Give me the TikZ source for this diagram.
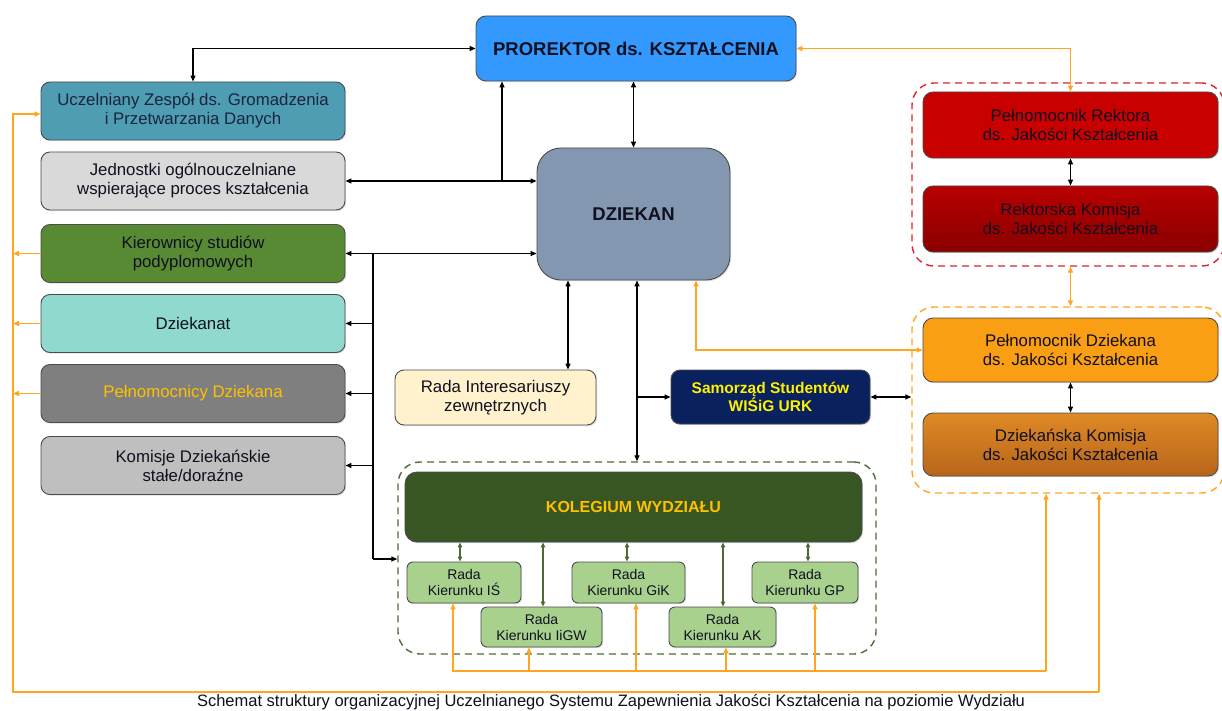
\documentclass[tikz,border=0pt]{standalone}
\usepackage{fontspec}
\setmainfont{Liberation Sans}
\usetikzlibrary{arrows.meta,shadows}
\definecolor{txt}{HTML}{101020}
\definecolor{cProrektor}{HTML}{3399FF}
\definecolor{cUczel}{HTML}{4E9DB2}
\definecolor{cUczelTxt}{HTML}{1A2440}
\definecolor{cJedn}{HTML}{D9D9D9}
\definecolor{cKier}{HTML}{578A33}
\definecolor{cDziekanat}{HTML}{8FD9CF}
\definecolor{cPelnD}{HTML}{7F7F7F}
\definecolor{cKomisje}{HTML}{BFBFBF}
\definecolor{cDziekan}{HTML}{8497B0}
\definecolor{cRadaInt}{HTML}{FFF2CC}
\definecolor{cSamorzad}{HTML}{0A215F}
\definecolor{cKolegium}{HTML}{375623}
\definecolor{cRadaK}{HTML}{A9D18E}
\definecolor{cPRekt}{HTML}{C80000}
\definecolor{cRKomTop}{HTML}{B80000}
\definecolor{cRKomBot}{HTML}{8A0000}
\definecolor{cPDziek}{HTML}{FA9E14}
\definecolor{cDKomTop}{HTML}{DE8A26}
\definecolor{cDKomBot}{HTML}{B8651A}
\definecolor{cGold}{HTML}{FFC000}
\definecolor{cOrange}{HTML}{FFA51F}
\definecolor{cRedDash}{HTML}{E0242C}
\definecolor{cGreenDash}{HTML}{4F6B3A}
\definecolor{cGreenLine}{HTML}{4A6B35}
\begin{document}
\begin{tikzpicture}[x=1pt,y=-1pt,
  >={Triangle[length=6pt,width=5pt]},
  box/.style={draw=black!70, line width=0.9pt, rounded corners=9pt, align=center,
    inner sep=0pt, text=txt, font=\fontsize{16.8}{19}\selectfont,
    drop shadow={shadow xshift=1.2pt,shadow yshift=-1.2pt,opacity=0.25}},
  leftbox/.style={box, minimum width=304pt, minimum height=58pt},
  radabox/.style={box, fill=cRadaK, minimum height=41pt, rounded corners=6pt,
    font=\fontsize{14}{16}\selectfont},
  rightbox/.style={box, minimum width=295pt, rounded corners=10pt},
  cont/.style={line width=1.4pt, dash pattern=on 7pt off 5pt, rounded corners=22pt},
  blk/.style={line width=1.3pt, black},
  oline/.style={line width=1.4pt, cOrange},
  gline/.style={line width=1.3pt, cGreenLine}]

\fill[white] (0,0) rectangle (1222,711);
\useasboundingbox (0,0) rectangle (1222,711);

% containers
\node[cont, draw=cRedDash, minimum width=312pt, minimum height=183pt] (redcont) at (1068,174.5) {};
\node[cont, draw=cOrange, minimum width=312pt, minimum height=186pt] (orcont) at (1068,400) {};
\node[cont, draw=cGreenDash, minimum width=478pt, minimum height=192pt] (kolcont) at (637,558) {};

% top / centre
\node[box, fill=cProrektor, minimum width=320pt, minimum height=65pt, rounded corners=10pt,
  font=\fontsize{18.5}{21}\selectfont\bfseries] (prorektor) at (636,48.5) {PROREKTOR ds. KSZTAŁCENIA};
\node[box, fill=cDziekan, minimum width=193pt, minimum height=132pt, rounded corners=24pt,
  font=\fontsize{18.5}{21}\selectfont\bfseries] (dziekan) at (633.5,214) {DZIEKAN};

% left column
\node[leftbox, fill=cUczel, text=cUczelTxt] (uzesp) at (193,111) {Uczelniany Zespół ds. Gromadzenia\\i Przetwarzania Danych};
\node[leftbox, fill=cJedn] (jedn) at (193,181) {Jednostki ogólnouczelniane\\wspierające proces kształcenia};
\node[leftbox, fill=cKier] (kier) at (193,253.5) {Kierownicy studiów\\podyplomowych};
\node[leftbox, fill=cDziekanat] (dziekanat) at (193,323.5) {Dziekanat};
\node[leftbox, fill=cPelnD, text=cGold] (pelnd) at (193,393.5) {Pełnomocnicy Dziekana};
\node[leftbox, fill=cKomisje] (komisje) at (193,465.5) {Komisje Dziekańskie\\stałe/doraźne};

% middle
\node[box, fill=cRadaInt, minimum width=201pt, minimum height=55pt] (radaint) at (495.5,397.5) {Rada Interesariuszy\\zewnętrznych};
\node[box, fill=cSamorzad, text=yellow, minimum width=199pt, minimum height=54pt,
  font=\fontsize{15.5}{18}\selectfont\bfseries] (samorzad) at (770.5,397) {Samorząd Studentów\\WIŚiG URK};
\node[box, fill=cKolegium, text=cGold, minimum width=457pt, minimum height=70pt, rounded corners=12pt,
  font=\fontsize{16}{18}\selectfont\bfseries] (kolegium) at (633.5,507) {KOLEGIUM WYDZIAŁU};
\node[radabox, minimum width=114pt] (rk1) at (464,582.5) {Rada\\Kierunku IŚ};
\node[radabox, minimum width=121pt, minimum height=40pt] (rk2) at (541.5,627) {Rada\\Kierunku IiGW};
\node[radabox, minimum width=113pt] (rk3) at (628.5,582.5) {Rada\\Kierunku GiK};
\node[radabox, minimum width=107pt, minimum height=40pt] (rk4) at (722.5,627) {Rada\\Kierunku AK};
\node[radabox, minimum width=106pt] (rk5) at (805,582.5) {Rada\\Kierunku GP};

% right
\node[rightbox, fill=cPRekt, minimum height=66pt] (prekt) at (1070.5,125) {Pełnomocnik Rektora\\ds. Jakości Kształcenia};
\node[rightbox, top color=cRKomTop, bottom color=cRKomBot, minimum height=66pt] (rkom) at (1070.5,219) {Rektorska Komisja\\ds. Jakości Kształcenia};
\node[rightbox, fill=cPDziek, minimum height=64pt] (pdziek) at (1070.5,350) {Pełnomocnik Dziekana\\ds. Jakości Kształcenia};
\node[rightbox, top color=cDKomTop, bottom color=cDKomBot, minimum height=63pt] (dkom) at (1070.5,444.5) {Dziekańska Komisja\\ds. Jakości Kształcenia};

% caption
\node[font=\fontsize{16.5}{18}\selectfont, text=txt] (caption) at (611,702) {Schemat struktury organizacyjnej Uczelnianego Systemu Zapewnienia Jakości Kształcenia na poziomie Wydziału};

% ---- black connectors
\draw[blk,<->] (uzesp.north) |- (prorektor.west);
\draw[blk,<->] (jedn.east) -- (jedn.east -| dziekan.west);
\coordinate (j1) at (502,181);
\draw[blk,->] (j1) -- (j1 |- prorektor.south);
\draw[blk,<->] (dziekan.north |- prorektor.south) -- (dziekan.north);
\draw[blk,<->] (kier.east) -- (kier.east -| dziekan.west);
\coordinate (b1) at (373,253.5);
\coordinate (b2) at (373,559);
\draw[blk] (b1) -- (b2);
\draw[blk,->] (b2) -- (b2 -| kolcont.west);
\draw[blk,->] (b1 |- dziekanat.east) -- (dziekanat.east);
\draw[blk,->] (b1 |- pelnd.east) -- (pelnd.east);
\draw[blk,->] (b1 |- komisje.east) -- (komisje.east);
\draw[blk,<->] ([xshift=72.5pt]radaint.north |- dziekan.south) -- ([xshift=72.5pt]radaint.north);
\draw[blk,<->] (kolcont.north |- dziekan.south) -- (kolcont.north);
\draw[blk,->] (kolcont.north |- samorzad.west) -- (samorzad.west);
\draw[blk,<->] (samorzad.east) -- (samorzad.east -| orcont.west);
\draw[blk,<->] (prekt.south) -- (rkom.north);
\draw[blk,<->] (pdziek.south) -- (dkom.north);

% ---- green connectors
\foreach \r/\dx in {rk1/-4, rk2/1.5, rk3/-1.5, rk4/0.5, rk5/3}{
  \draw[gline,<->,>={Triangle[length=5pt,width=4.5pt]}] ([xshift=\dx pt]\r.north) -- ([xshift=\dx pt]\r.north |- kolegium.south);
}

% ---- orange connectors
\draw[oline,<->] (prorektor.east) -| (prekt.north);
\draw[oline,<->] (prekt.south |- redcont.south) -- (prekt.south |- orcont.north);
\draw[oline,<->] ([xshift=62.5pt]dziekan.south) |- (pdziek.west);
\coordinate (obus) at (1046,671);
\draw[oline,->] (obus) -- (obus |- orcont.south);
\draw[oline,<-] ([xshift=-11pt]rk1.south) |- (obus);
\draw[oline,<-] ([xshift=-12.5pt]rk2.south) -- ([xshift=-12.5pt]rk2.south |- obus);
\draw[oline,<-] ([xshift=7.5pt]rk3.south) -- ([xshift=7.5pt]rk3.south |- obus);
\draw[oline,<-] ([xshift=3.5pt]rk4.south) -- ([xshift=3.5pt]rk4.south |- obus);
\draw[oline,<-] ([xshift=10pt]rk5.south) -- ([xshift=10pt]rk5.south |- obus);
\coordinate (oc1) at (1099,692);
\coordinate (oc2) at (13,692);
\draw[oline,->] (oc1) -- (oc1 |- orcont.south);
\draw[oline,->] (oc1) -- (oc2) |- ([yshift=-3pt]uzesp.west);
\draw[oline,->] (kier.west) -- (kier.west -| oc2);
\draw[oline,->] (dziekanat.west) -- (dziekanat.west -| oc2);
\draw[oline,->] (pelnd.west) -- (pelnd.west -| oc2);
\end{tikzpicture}
\end{document}
